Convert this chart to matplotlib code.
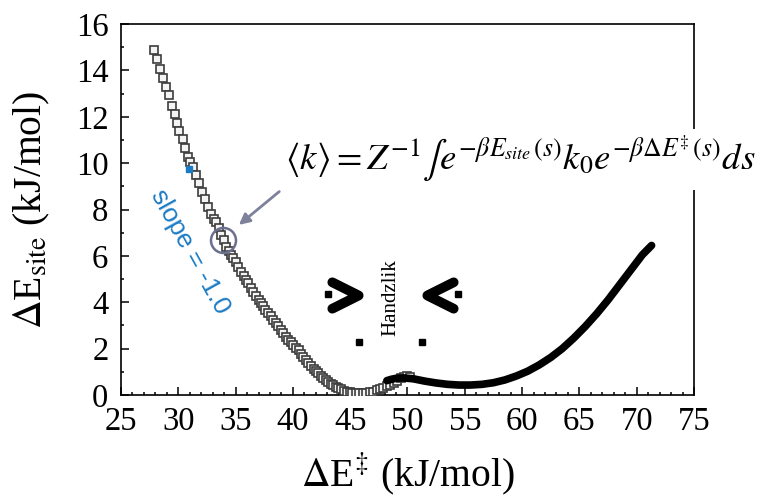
import matplotlib
matplotlib.use('Agg')

import matplotlib.pyplot as plt
from matplotlib.path import Path
from matplotlib.markers import MarkerStyle

# Datos
sq_x = [27.9, 28.1, 28.4, 28.7, 28.9, 29.2, 29.45, 29.7, 29.9, 30.1, 30.4, 30.55, 30.85, 31.05,
        31.3, 31.55, 31.8, 32.05, 32.3, 32.6, 32.85, 33.1, 33.3, 33.55, 33.75, 34.0, 34.2, 34.4,
        34.6, 34.8, 35.0, 35.25, 35.5, 35.7, 35.9, 36.1, 36.35, 36.55, 36.75, 37.0, 37.2, 37.4,
        37.6, 37.85, 38.05, 38.3, 38.5, 38.7, 38.95, 39.15, 39.4, 39.6, 39.8, 40.05, 40.25, 40.5,
        40.7, 40.9, 41.15, 41.35, 41.55, 41.8, 42.0, 42.2, 42.45, 42.65, 42.85, 43.1, 43.3, 43.5,
        43.75, 43.95, 44.2, 44.45, 44.7, 44.95, 45.2, 45.5, 45.8, 46.1, 46.4, 46.7, 47.0, 47.3,
        47.6, 47.9, 48.2, 48.5, 48.8, 49.1, 49.4, 49.7, 50.0, 50.2]
sq_y = [14.88, 14.48, 14.04, 13.66, 13.29, 12.94, 12.46, 12.12, 11.74, 11.40, 11.03, 10.64, 10.28,
        10.05, 9.84, 9.49, 9.13, 8.77, 8.44, 8.12, 7.81, 7.6, 7.47, 7.19, 6.90, 6.68, 6.40, 6.22,
        6.05, 5.90, 5.72, 5.52, 5.32, 5.15, 4.98, 4.82, 4.62, 4.45, 4.29, 4.09, 3.95, 3.82, 3.68,
        3.52, 3.40, 3.23, 3.10, 2.97, 2.81, 2.68, 2.50, 2.37, 2.27, 2.14, 2.04, 1.92, 1.79, 1.66,
        1.49, 1.36, 1.25, 1.12, 1.03, 0.94, 0.83, 0.73, 0.64, 0.56, 0.49, 0.42, 0.35, 0.29, 0.24,
        0.19, 0.15, 0.12, 0.10, 0.08, 0.07, 0.07, 0.08, 0.11, 0.15, 0.20, 0.25, 0.30, 0.37, 0.45,
        0.52, 0.62, 0.72, 0.78, 0.80, 0.79]

line_x = [48.2, 48.6, 49.0, 49.6, 50.5, 51.5, 52.5, 53.5, 54.5, 55.5, 56.5, 57.5, 58.5, 59.5,
          60.5, 61.5, 62.5, 63.5, 64.5, 65.5, 66.5, 67.5, 68.5, 69.5, 70.5, 71.3]
line_y = [0.62, 0.68, 0.72, 0.74, 0.70, 0.60, 0.52, 0.46, 0.43, 0.43, 0.46, 0.53, 0.65, 0.82,
          1.03, 1.30, 1.62, 2.00, 2.45, 2.95, 3.50, 4.10, 4.75, 5.40, 6.05, 6.45]

x_ticks = [25, 30, 35, 40, 45, 50, 55, 60, 65, 70, 75]
y_ticks = [0, 2, 4, 6, 8, 10, 12, 14, 16]

plt.rcParams['font.family'] = ['Liberation Serif', 'DejaVu Serif']
plt.rcParams['mathtext.fontset'] = 'stix'

fig = plt.figure(figsize=(7.73, 4.97), dpi=100)
ax = fig.add_axes([0.1565, 0.2052, 0.7413, 0.7465])

# curva de cuadrados abiertos y curva negra gruesa
ax.plot(sq_x, sq_y, ls='none', marker='s', ms=5.2, mfc='#f4f4f4', mec='#3c3c3c', mew=1.2, zorder=3)
ax.plot(line_x, line_y, color='black', lw=5.5, solid_capstyle='round', zorder=4)

ax.set_xlim(25, 75)
ax.set_ylim(0, 16)
ax.set_xticks(x_ticks)
ax.set_yticks(y_ticks)
ax.set_xticks(range(25, 76), minor=True)
ax.set_yticks(range(0, 17), minor=True)
ax.tick_params(which='both', direction='in', top=False, right=False, labelsize=23.5, width=1.1)
ax.tick_params(which='major', length=6)
ax.tick_params(which='minor', length=2.5)
ax.tick_params(axis='y', which='major', pad=9)
ax.tick_params(axis='x', which='major', pad=8)
for s in ax.spines.values():
    s.set_linewidth(1.2)

ax.set_xlabel(r'$\Delta$E$^{\ddagger}$ (kJ/mol)', fontsize=28.5, labelpad=10)
ax.set_ylabel(r'$\Delta$E$_{\rm site}$ (kJ/mol)', fontsize=28.5, labelpad=17)

# formula
ax.text(0.286, 0.606,
        r'$\langle k\rangle = Z^{-1}\int e^{-\beta E_{site}\,(s)}k_0 e^{-\beta\Delta E^{\ddagger}\,(s)}ds$',
        transform=ax.transAxes, fontsize=26.5, ha='left', va='baseline', zorder=6, clip_on=False,
        bbox=dict(facecolor='white', edgecolor='none', pad=4))

# circulo y flecha
ax.plot([33.93], [6.68], marker='o', ms=18, mfc='none', mec='#6b7090', mew=1.8, zorder=5)
ax.annotate('', xy=(35.1, 7.26), xytext=(39.0, 8.85),
            arrowprops=dict(arrowstyle='-|>', color='#7d8199', lw=2, mutation_scale=16))

# pendiente
ax.plot([30.96], [9.73], marker='s', ms=4, color='#1b7bc4', zorder=5)
ax.text(31.0, 6.19, 'slope = -1.0', family='Liberation Sans', color='#1b7bc4', fontsize=19,
        rotation=-61, rotation_mode='anchor', ha='center', va='center')

# Handzlik y chevrones
ax.text(48.56, 4.18, 'Handzlik', rotation=90, fontsize=15, ha='center', va='center')
chev_r = MarkerStyle(Path([(-0.5, 0.5), (0.5, 0), (-0.5, -0.5)],
                          [Path.MOVETO, Path.LINETO, Path.LINETO]),
                     capstyle='round', joinstyle='round')
chev_l = MarkerStyle(Path([(0.5, 0.5), (-0.5, 0), (0.5, -0.5)],
                          [Path.MOVETO, Path.LINETO, Path.LINETO]),
                     capstyle='round', joinstyle='round')
ax.plot([44.57], [4.33], marker=chev_r, ms=19, mfc='none', mec='black', mew=7)
ax.plot([52.88], [4.33], marker=chev_l, ms=19, mfc='none', mec='black', mew=7)
ax.plot([43.06, 54.4, 45.77, 51.27], [4.36, 4.36, 2.29, 2.29], ls='none', marker='s', ms=4,
        color='black')

fig.savefig('out.png', dpi=100)
